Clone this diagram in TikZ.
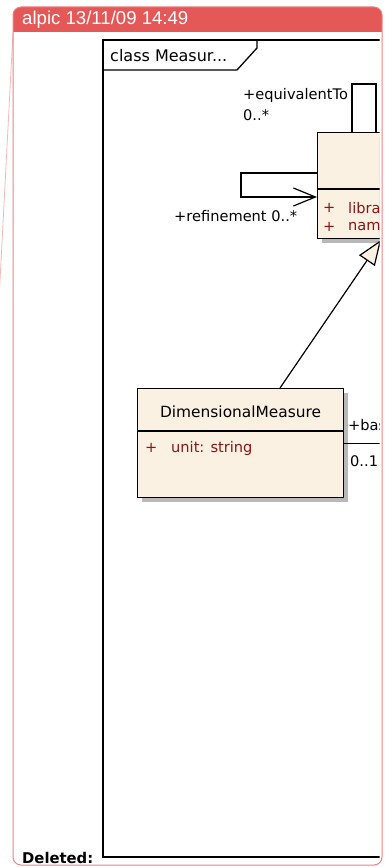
\documentclass[tikz,border=0pt]{standalone}
\usepackage{fontspec}
\setmainfont{DejaVu Sans}
\newfontfamily\hdrfont{Liberation Sans}
\usetikzlibrary{arrows.meta,calc}
\definecolor{hdrred}{RGB}{228,88,88}
\definecolor{boxpink}{RGB}{238,130,130}
\definecolor{linepink}{RGB}{246,185,185}
\definecolor{classfill}{RGB}{251,241,227}
\definecolor{attrred}{RGB}{140,20,20}
\definecolor{shadowgray}{RGB}{185,185,185}
\tikzset{
  umlclass/.style={draw=black, line width=1.2pt, fill=classfill, rectangle, anchor=north west, inner sep=0pt},
  lbl/.style={font=\fontsize{14.6pt}{17pt}\selectfont, inner sep=0pt, anchor=west},
  attr/.style={lbl, text=attrred},
  conn/.style={line width=1.2pt, draw=black},
}
\begin{document}
\begin{tikzpicture}[x=1pt,y=-1pt]
\useasboundingbox (0,0) rectangle (385,867);

% comment box
\draw[linepink, line width=0.8pt] (13,32) -- (-1,300);
\fill[hdrred, rounded corners=8pt] (13,7) rectangle (382,32);
\fill[hdrred] (13,20) rectangle (382,32);
\node[font=\hdrfont\fontsize{18.6pt}{20pt}\selectfont, text=white, anchor=west, inner sep=0pt] (hdr) at (22,20) {alpic 13/11/09 14:49};
\node[font=\bfseries\fontsize{14.8pt}{17pt}\selectfont, anchor=base west, inner sep=0pt] (del) at (22,863) {Deleted:};

\begin{scope}
\clip (0,0) rectangle (379.5,867);
% frame
\draw[line width=1.6pt] (390,40) -- (103,40) -- (103,857) -- (390,857);
\draw[line width=1.3pt] (103,70) -- (237,70) -- (257,48) -- (257,40);
\node[lbl, font=\fontsize{16pt}{18pt}\selectfont] (title) at (110,56) {class Measur...};

% shadows
\fill[shadowgray] (322,137) rectangle (425,243);
\fill[shadowgray] (142,393) rectangle (348,502);

% top class
\node[umlclass, minimum width=103pt, minimum height=106pt] (meas) at (317,132) {};
\draw[line width=1.2pt] ($(meas.north west)+(0,57)$) -- ($(meas.north east)+(0,57)$);
\node[attr] (a1p) at (323,208) {+};
\node[attr] (a1) at (348,208) {libra};
\node[attr] (a2p) at (323,227) {+};
\node[attr] (a2) at (348,227) {nam};

% self association equivalentTo
\draw[conn] ($(meas.north west)+(35,0)$) -- ++(0,-48) -- ++(24,0) -- ($(meas.north west)+(59,0)$);
\node[lbl] (eqlbl) at (243,95) {+equivalentTo};
\node[lbl] (eqmul) at (243,115) {0..*};

% self association refinement
\draw[conn, -{Straight Barb[length=22pt,width=18pt]}] ($(meas.north west)+(0,41)$) -- ++(-76,0) -- ++(0,24) -- ($(meas.north west)+(0,65)$);
\node[lbl] (reflbl) at (174,216) {+refinement 0..*};

% DimensionalMeasure
\node[umlclass, minimum width=206pt, minimum height=109pt] (dm) at (137,388) {};
\draw[line width=1.2pt] ($(dm.north west)+(0,43)$) -- ($(dm.north east)+(0,43)$);
\node[font=\fontsize{15.4pt}{18pt}\selectfont, inner sep=0pt] (dmname) at ($(dm.north)+(0,24)$) {DimensionalMeasure};
\node[attr] (dmp) at (145,448) {+};
\node[attr] (dmu) at (171,448) {unit: string};

% generalization
\coordinate (genTip) at (381,240);
\draw[conn, -{Triangle[open, length=25pt, width=19pt, fill=classfill]}] ($(dm.north west)+(143,0)$) -- (genTip);

% association
\coordinate (asEnd) at (400,442.5);
\draw[conn] (dm.east) -- (dm.east -| asEnd);
\node[lbl] (baslbl) at (348,425) {+bas};
\node[lbl] (basmul) at (350,461) {0..1};
\end{scope}

\draw[boxpink, line width=1pt, rounded corners=8pt] (13,7) rectangle (382,865);
\end{tikzpicture}
\end{document}
